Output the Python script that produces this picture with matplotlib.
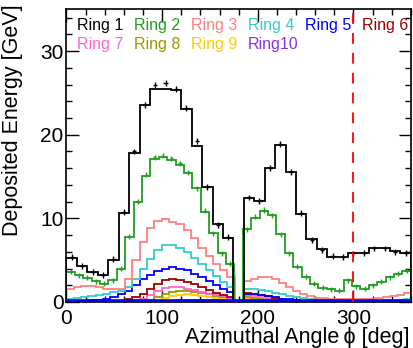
import numpy as np
import matplotlib
matplotlib.use("Agg")
import matplotlib.pyplot as plt
from matplotlib.ticker import MultipleLocator

# ring 1: 33 azimuthal bins, ring 2: 41 bins, rings 3-10: 23 bins, gap, 24 bins
ring1 = [5.3, 4.3, 3.6, 3.2, 5.0, 10.7, 17.8, 23.5, 25.5, 25.5, 25.3, 23.1, 18.7,
         13.7, 9.3, 7.6, 0.0, 12.4, 12.1, 16.0, 18.8, 15.6, 10.5, 7.5, 6.3, 5.4,
         5.4, 5.9, 5.9, 6.4, 6.4, 6.1, 5.9]
ring1_pts = [5.4, 4.3, 3.6, 3.2, 5.1, 10.8, 18.0, 23.6, 25.9, 26.2, 25.5, 23.2, 19.2,
             13.8, 9.2, 7.8, np.nan, 12.5, 12.1, 16.0, 18.9, 15.5, 10.6, 7.4, 6.2, 5.5,
             5.4, 5.8, 5.9, 6.4, 6.4, 6.0, 5.9]
ring2 = [3.6, 3.2, 2.9, 2.5, 2.2, 2.6, 4.0, 7.8, 11.9, 15.1, 17.1, 17.3, 17.0, 16.4,
         15.4, 13.6, 10.8, 8.2, 5.8, 4.6, 0.0, 8.7, 10.1, 10.9, 10.4, 8.1, 5.8, 4.2,
         3.0, 2.2, 1.7, 1.5, 1.35, 2.6, 1.9, 1.6, 2.0, 2.4, 2.95, 3.35, 3.75]
ring2_pts = [3.6, 3.2, 2.9, 2.5, 2.2, 2.6, 4.0, 7.8, 12.0, 15.2, 17.3, 17.5, 17.2, 16.6,
             15.5, 13.6, 10.9, 8.2, 5.8, 4.6, np.nan, 8.7, 10.2, 11.0, 10.4, 8.1, 5.8,
             4.2, 3.0, 2.2, 1.7, 1.5, 1.35, 2.6, 1.9, 1.6, 2.0, 2.4, 2.95, 3.35, 3.75]
ring3 = [1.6, 1.8, 1.9, 1.9, 1.75, 1.6, 1.5, 1.6, 2.8, 5.0, 7.2, 8.8, 9.7, 9.9, 9.6,
         9.3, 8.6, 7.6, 6.5, 5.5, 4.6, 3.8, 3.0,
         0.0,
         2.5, 2.8, 3.0, 3.0, 2.8, 2.3, 1.8, 1.3, 0.95, 0.7, 0.5, 0.45, 0.4, 0.35, 0.3,
         0.3, 0.3, 0.35, 0.4, 0.5, 0.55, 0.7, 0.85, 1.05]
ring4 = [0.35, 0.45, 0.55, 0.7, 0.85, 1.0, 1.15, 1.35, 1.8, 2.8, 4.0, 5.2, 6.2, 6.8,
         6.8, 6.5, 6.0, 5.3, 4.6, 3.8, 3.1, 2.4, 1.8,
         0.0,
         1.6, 1.5, 1.4, 1.3, 1.1, 0.9, 0.7, 0.55, 0.45, 0.35, 0.3, 0.25, 0.2, 0.2, 0.15,
         0.15, 0.15, 0.15, 0.15, 0.15, 0.2, 0.2, 0.25, 0.3]
ring5 = [0.05, 0.08, 0.12, 0.18, 0.25, 0.4, 0.6, 0.9, 1.3, 2.0, 2.7, 3.2, 3.7, 4.0,
         4.15, 4.0, 3.8, 3.4, 3.0, 2.5, 2.0, 1.5, 1.2,
         0.0,
         1.0, 0.95, 0.85, 0.7, 0.55, 0.4, 0.3, 0.2, 0.15, 0.1, 0.1, 0.08, 0.06, 0.05,
         0.05, 0.05, 0.05, 0.05, 0.05, 0.05, 0.05, 0.05, 0.05, 0.05]
ring6 = [0.02, 0.02, 0.03, 0.03, 0.04, 0.05, 0.08, 0.15, 0.3, 0.6, 1.0, 1.5, 2.2,
         2.65, 2.7, 2.6, 2.4, 2.1, 1.8, 1.45, 1.1, 0.85, 0.55,
         0.0,
         1.1, 0.95, 0.85, 0.7, 0.5, 0.35, 0.25, 0.15, 0.1, 0.06, 0.04, 0.03, 0.02, 0.02,
         0.02, 0.02, 0.02, 0.02, 0.02, 0.02, 0.02, 0.02, 0.02, 0.02]
ring7 = [0.0, 0.0, 0.0, 0.0, 0.0, 0.0, 0.02, 0.05, 0.1, 0.2, 0.4, 0.85, 1.35, 1.7,
         1.8, 1.75, 1.6, 1.45, 1.25, 1.0, 0.85, 0.7, 0.5,
         0.0,
         0.85, 0.75, 0.6, 0.45, 0.3, 0.2, 0.12, 0.08, 0.05, 0.03, 0.02, 0.0, 0.0, 0.0,
         0.0, 0.0, 0.0, 0.0, 0.0, 0.0, 0.0, 0.0, 0.0, 0.0]
ring8 = [0.0, 0.0, 0.0, 0.0, 0.0, 0.0, 0.0, 0.0, 0.02, 0.05, 0.1, 0.25, 0.6, 1.0,
         1.2, 1.3, 1.3, 1.2, 1.05, 0.9, 0.75, 0.6, 0.45,
         0.0,
         0.6, 0.5, 0.4, 0.3, 0.2, 0.12, 0.08, 0.05, 0.03, 0.02, 0.0, 0.0, 0.0, 0.0,
         0.0, 0.0, 0.0, 0.0, 0.0, 0.0, 0.0, 0.0, 0.0, 0.0]
ring9 = [0.0, 0.0, 0.0, 0.0, 0.0, 0.0, 0.0, 0.0, 0.0, 0.0, 0.02, 0.05, 0.2, 0.45,
         0.7, 0.85, 0.9, 0.85, 0.75, 0.6, 0.5, 0.4, 0.3,
         0.0,
         0.35, 0.3, 0.25, 0.2, 0.12, 0.08, 0.05, 0.03, 0.02, 0.0, 0.0, 0.0, 0.0, 0.0,
         0.0, 0.0, 0.0, 0.0, 0.0, 0.0, 0.0, 0.0, 0.0, 0.0]
ring10 = [0.0, 0.0, 0.0, 0.0, 0.0, 0.0, 0.0, 0.0, 0.0, 0.0, 0.0, 0.0, 0.05, 0.1,
          0.15, 0.2, 0.25, 0.28, 0.28, 0.25, 0.2, 0.15, 0.1,
          0.0,
          0.08, 0.06, 0.04, 0.02, 0.0, 0.0, 0.0, 0.0, 0.0, 0.0, 0.0, 0.0, 0.0, 0.0,
          0.0, 0.0, 0.0, 0.0, 0.0, 0.0, 0.0, 0.0, 0.0, 0.0]
# near-zero blue trace along the bottom
floor_vals = [0.06, 0.06, 0.06, 0.06, 0.06, 0.06, 0.06, 0.06, 0.06, 0.06, 0.06, 0.06]

labels = ["Ring 1", "Ring 2", "Ring 3", "Ring 4", "Ring 5",
          "Ring 6", "Ring 7", "Ring 8", "Ring 9", "Ring10"]
colors = ["black", "#1f9e1f", "#ff7f7f", "#33cccc", "#0000ff",
          "#a00000", "#ff66cc", "#999900", "#ffcc00", "#8833dd"]

cut_angle = 300

fam = ["Liberation Sans", "DejaVu Sans"]
plt.rcParams["font.family"] = fam

fig = plt.figure(figsize=(4.14, 3.48), dpi=100)
ax = fig.add_axes([0.1606, 0.1322, 0.8316, 0.8411])

edges1 = np.linspace(0, 360, len(ring1) + 1)
edges2 = np.linspace(0, 360, len(ring2) + 1)
edges_n = np.concatenate([np.linspace(0, 176, 24), np.linspace(186, 360, 25)])

rings = [ring1, ring2, ring3, ring4, ring5, ring6, ring7, ring8, ring9, ring10]
all_edges = [edges1, edges2] + [edges_n] * 8

for i in range(9, -1, -1):
    ax.stairs(rings[i], all_edges[i], color=colors[i], lw=1.3, zorder=3 + (10 - i) * 0.1)

ax.stairs(floor_vals, np.linspace(0, 360, len(floor_vals) + 1), color="#0000ff",
          lw=2.6, zorder=5)

# data points with error bars
c1 = 0.5 * (edges1[1:] + edges1[:-1])
ax.errorbar(c1, ring1_pts, xerr=2.2, yerr=0.35, fmt="none", ecolor="black",
            elinewidth=1.0, zorder=6)
c2 = 0.5 * (edges2[1:] + edges2[:-1])
ax.errorbar(c2, ring2_pts, xerr=1.8, yerr=0.3, fmt="none", ecolor=colors[1],
            elinewidth=1.0, zorder=6)

ax.axvline(cut_angle, color="red", lw=1.3, ls=(0, (6, 5)), zorder=7)

ax.set_xlim(0, 360)
ax.set_ylim(0, 35)
ax.xaxis.set_major_locator(MultipleLocator(100))
ax.xaxis.set_minor_locator(MultipleLocator(20))
ax.yaxis.set_major_locator(MultipleLocator(10))
ax.yaxis.set_minor_locator(MultipleLocator(2))
ax.tick_params(which="both", direction="in", top=True, right=True, labelsize=15)
ax.tick_params(which="major", length=9, width=1.0)
ax.tick_params(which="minor", length=4.5, width=1.0)
ax.tick_params(axis="x", pad=5)
ax.tick_params(axis="y", pad=2)
for s in ax.spines.values():
    s.set_linewidth(1.2)

ax.set_xlabel("Azimuthal Angle\u2009ϕ [deg]", fontsize=15.5, loc="right")
ax.xaxis.set_label_coords(0.995, -0.085)
ax.set_ylabel("Deposited Energy [GeV]", fontsize=15.5, loc="top")
ax.yaxis.set_label_coords(-0.125, 1.018)

# text-only legend, two rows of six
for i, lab in enumerate(labels):
    col = i % 6
    row = i // 6
    ax.text(0.031 + col * 0.1655, 0.943 - row * 0.062, lab, color=colors[i],
            fontsize=11.5, transform=ax.transAxes, va="center", ha="left", zorder=8)

fig.savefig("out.png", dpi=100)
